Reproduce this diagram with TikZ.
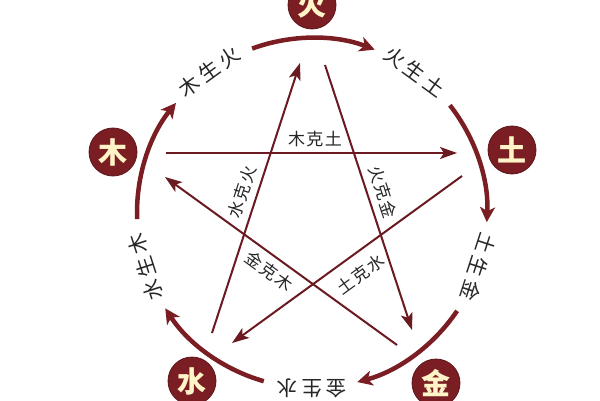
\documentclass[tikz,border=0pt]{standalone}
\usepackage{fontspec}
\setmainfont{Noto Sans CJK SC}
\usetikzlibrary{arrows.meta,calc}
\definecolor{wxred}{HTML}{7A1E24}
\definecolor{wxline}{HTML}{6A1A20}
\definecolor{wxtext}{HTML}{262626}
\definecolor{wxcream}{HTML}{FFF4C8}
\begin{document}
\begin{tikzpicture}[x=1pt,y=1pt,
  elem/.style={circle,fill=wxred,draw=wxred!75!black,line width=0.8pt,minimum size=48pt,inner sep=0pt,text=wxcream,font=\fontsize{29}{29}\selectfont\bfseries},
  cyc/.style={wxred,line width=4.5pt,-{Stealth[length=15pt,width=15pt,inset=4pt]}},
  ke/.style={wxline,line width=2pt,-{Stealth[length=17pt,width=12pt,inset=4pt]}},
  cyclab/.style={text=wxtext,font=\fontsize{20.5}{20.5}\selectfont,inner sep=0pt},
  kelab/.style={text=wxtext,font=\fontsize{17}{17}\selectfont,inner sep=0pt}]
\clip (0,0) rectangle (600,400);
\fill[white] (0,0) rectangle (600,400);
\coordinate (C) at (312,187);
% elements
\node[elem] (huo) at (312,395) {火};
\node[elem] (mu)  at (113,248) {木};
\node[elem] (tu)  at (512,250) {土};
\node[elem] (shui) at (192,19) {水};
\node[elem] (jin) at (436,17) {金};
% generating cycle arcs
\coordinate (a1s) at ($(C)+(110:175)$);
\coordinate (a2s) at ($(C)+(38:175)$);
\coordinate (a3s) at ($(C)+(326:175)$);
\coordinate (a4s) at ($(C)+(254:175)$);
\coordinate (a5s) at ($(C)+(182:175)$);
\draw[cyc] (a1s) arc[start angle=110,end angle=69,radius=175];
\draw[cyc] (a2s) arc[start angle=38,end angle=-3,radius=175];
\draw[cyc] (a3s) arc[start angle=326,end angle=285,radius=175];
\draw[cyc] (a4s) arc[start angle=254,end angle=213,radius=175];
\draw[cyc] (a5s) arc[start angle=182,end angle=141,radius=175];
% generating labels
\node[cyclab,rotate=36]  (sheng1) at ($(C)+(126:175)$) {木\hspace{4pt}生\hspace{4pt}火};
\node[cyclab,rotate=-36] (sheng2) at ($(C)+(54:175)$) {火\hspace{4pt}生\hspace{4pt}土};
\node[cyclab,rotate=252] (sheng3) at ($(C)+(342:175)$) {土\hspace{4pt}生\hspace{4pt}金};
\node[cyclab,rotate=180] (sheng4) at ($(C)+(270:175)$) {金\hspace{4pt}生\hspace{4pt}水};
\node[cyclab,rotate=108] (sheng5) at ($(C)+(198:175)$) {水\hspace{4pt}生\hspace{4pt}木};
% controlling star
\coordinate (k1s) at (166,247); \coordinate (k1e) at (457,247);
\coordinate (k2s) at (325,335); \coordinate (k2e) at (412,70);
\coordinate (k3s) at (462,224); \coordinate (k3e) at (232,57);
\coordinate (k4s) at (212,67);  \coordinate (k4e) at (300,337);
\coordinate (k5s) at (397,55);  \coordinate (k5e) at (165,223);
\draw[ke] (k1s) -- (k1e);
\draw[ke] (k2s) -- (k2e);
\draw[ke] (k3s) -- (k3e);
\draw[ke] (k4s) -- (k4e);
\draw[ke] (k5s) -- (k5e);
\node[kelab] (ke1) at (315,261) {木\hspace{1.5pt}克\hspace{1.5pt}土};
\node[kelab,rotate=-72] (ke2) at (383,208) {火\hspace{1.5pt}克\hspace{1.5pt}金};
\node[kelab,rotate=36] (ke3) at (361,126) {土\hspace{1.5pt}克\hspace{1.5pt}水};
\node[kelab,rotate=72] (ke4) at (242,208) {水\hspace{1.5pt}克\hspace{1.5pt}火};
\node[kelab,rotate=-36] (ke5) at (269,129) {金\hspace{1.5pt}克\hspace{1.5pt}木};
\end{tikzpicture}
\end{document}
